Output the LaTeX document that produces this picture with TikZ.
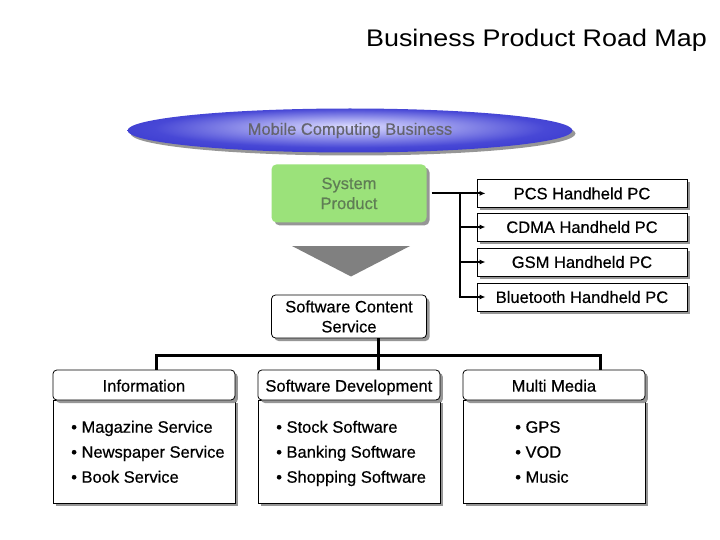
\documentclass[tikz,border=0pt]{standalone}
\usepackage{fontspec}
\setmainfont{Liberation Sans}[FakeBold=0.5]
\newfontfamily\titlefont[FakeStretch=1.12]{Liberation Sans}
\usetikzlibrary{shapes.geometric,shadows,arrows.meta}
\definecolor{shadowgray}{RGB}{150,150,150}
\definecolor{ellc}{RGB}{218,218,255}
\definecolor{ellm}{RGB}{165,165,240}
\definecolor{elld}{RGB}{72,72,214}
\definecolor{elld2}{RGB}{45,45,200}
\definecolor{elle}{RGB}{30,30,185}
\definecolor{elltext}{RGB}{100,100,110}
\definecolor{spgreen}{RGB}{155,226,122}
\definecolor{sptext}{RGB}{95,125,85}
\definecolor{trigray}{RGB}{128,128,128}
\pgfdeclareradialshading{ellblue}{\pgfpoint{0bp}{5bp}}{color(0bp)=(ellc); color(9bp)=(ellm); color(22bp)=(elld); color(36bp)=(elld2); color(50bp)=(elle)}
\newcommand\lstrut{\rule[-5pt]{0pt}{18pt}}
\begin{document}
\begin{tikzpicture}[x=1pt,y=-1pt,
  txt/.style={font=\fontsize{16.5}{20}\selectfont},
  shad/.style={drop shadow={shadow xshift=3pt,shadow yshift=-3pt,fill=shadowgray,opacity=1}},
  pcbox/.style={txt,draw=black,line width=0.8pt,fill=white,minimum width=210pt,minimum height=28pt,inner sep=0pt,text height=11.8pt,text depth=0pt,shad},
  rbox/.style={txt,draw=black,line width=0.8pt,fill=white,rounded corners=4pt,align=center,inner sep=0pt,shad},
  hbox/.style={rbox,minimum width=182pt,minimum height=30pt,text height=13.2pt,text depth=0pt},
  bbox/.style={draw=black,line width=0.8pt,fill=white,minimum width=182pt,minimum height=103pt,inner sep=0pt,shad},
  blist/.style={align=left,anchor=north west,inner sep=0pt,font=\fontsize{16.5}{25}\selectfont},
  conn/.style={line width=2pt},
  arr/.style={conn,-{Latex[length=6pt,width=5pt]}},
  bus/.style={line width=3pt}]
\useasboundingbox (0,0) rectangle (720,540);
\fill[white] (0,0) rectangle (720,540);

% title
\node[anchor=base east,inner sep=0pt,font=\titlefont\fontsize{24}{28}\selectfont] (title) at (707,46.7) {Business Product Road Map};

% ellipse
\node[ellipse,minimum width=445pt,minimum height=44pt,inner sep=0pt,shading=ellblue,text=elltext,txt,shad] (mcb) at (350,130.5) {Mobile Computing Business};

% system product
\node[txt,fill=spgreen,rounded corners=5pt,minimum width=155pt,minimum height=58pt,align=center,text=sptext,inner sep=0pt,shad] (sp) at (349,193.4) {System\\Product};

% down triangle
\fill[trigray] (292,246) -- (410,246) -- (351,276.5) -- cycle;

% handheld boxes
\node[pcbox] (pcs) at (582,193.4) {PCS Handheld PC};
\node[pcbox] (cdma) at (582,227) {CDMA Handheld PC};
\node[pcbox] (gsm) at (582,262) {GSM Handheld PC};
\node[pcbox] (bt) at (582,297) {Bluetooth Handheld PC};

\coordinate (jn) at (459.5,193.4);
\draw[arr] ([xshift=5pt]sp.east) -- ([xshift=9pt]pcs.west);
\draw[conn] (jn) -- (jn |- bt.west);
\draw[arr] (jn |- cdma.west) -- ([xshift=9pt]cdma.west);
\draw[arr] (jn |- gsm.west) -- ([xshift=9pt]gsm.west);
\draw[arr] ([xshift=-1pt]jn |- bt.west) -- ([xshift=9pt]bt.west);

% software content service
\node[rbox,minimum width=155pt,minimum height=43pt] (scs) at (349,316.5) {Software Content\\Service};

% bottom boxes
\node[bbox] (infob) at (143.9,451.5) {};
\node[bbox] (sdb) at (348.9,451.5) {};
\node[bbox] (mmb) at (553.9,451.5) {};
\node[hbox] (infoh) at (143.9,385) {Information};
\node[hbox] (sdh) at (348.9,385) {Software Development};
\node[hbox] (mmh) at (553.9,385) {Multi Media};

\node[blist] (infol) at (71,419.5) {\lstrut• Magazine Service\\• Newspaper Service\\\lstrut• Book Service};
\node[blist] (sdl) at (276,419.5) {\lstrut• Stock Software\\• Banking Software\\\lstrut• Shopping Software};
\node[blist] (mml) at (515,419.5) {\lstrut• GPS\\• VOD\\\lstrut• Music};

% bus
\coordinate (busL) at (156.7,355);
\coordinate (busM) at (378.3,355);
\coordinate (busR) at (600,355);
\draw[bus] (busM |- scs.south) -- (busM |- sdh.north);
\draw[bus] (infoh.north -| busL) -- (busL) -- (busR) -- (mmh.north -| busR);
\end{tikzpicture}
\end{document}
